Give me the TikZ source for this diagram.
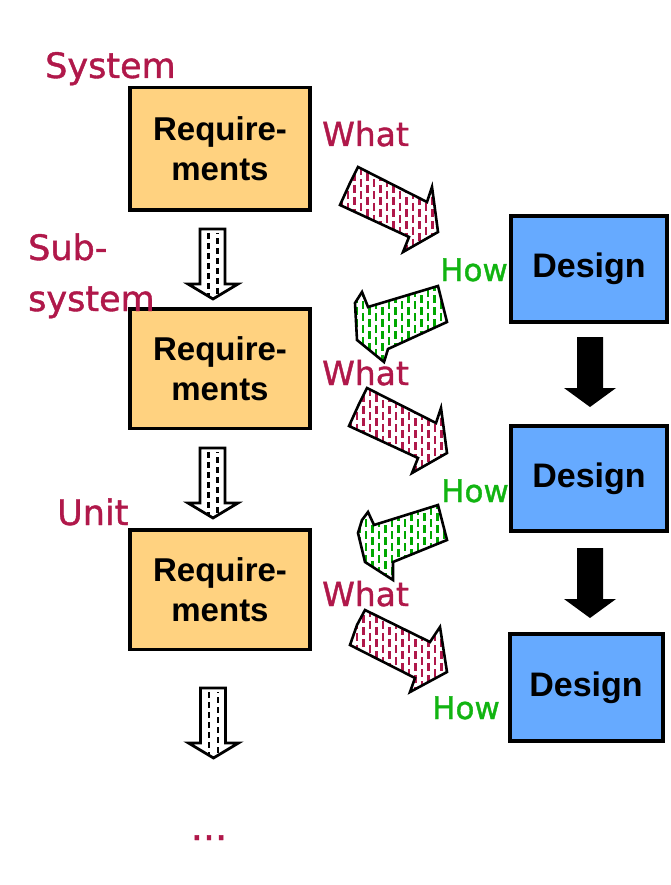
\documentclass[tikz,border=0pt]{standalone}
\usepackage{fontspec}
\setmainfont{Liberation Sans}
\newfontfamily\lblfont[FakeBold=1.2]{DejaVu Sans}
\definecolor{reqfill}{HTML}{FFD280}
\definecolor{desfill}{HTML}{66AAFF}
\definecolor{lblred}{HTML}{B0184A}
\definecolor{lblgreen}{HTML}{11B411}
\definecolor{arrred}{HTML}{B0184A}
\definecolor{arrgreen}{HTML}{00A800}

% hatched block arrow: #1 colour, #2 closed path, #3 x0, #4 y0 of a box covering it
\newcommand\hatchpoly[4]{%
  \begin{scope}
    \clip #2;
    \fill[white] ({#3-5},{#4-5}) rectangle ++(130,110);
    \foreach \i in {0,...,20}{%
      \ifodd\i \def\ph{6}\else\def\ph{0}\fi
      \draw[#1, line width=2.8pt, dash pattern=on 8pt off 4pt, dash phase=\ph pt]
        ({#3+\i*6.5},{#4-5}) -- ++(0,110);
    }
  \end{scope}
  \draw[outl] #2;
}
% white vertical arrow with dashes: #1 x centre, #2 y top
\newcommand\whitedown[2]{%
  \def\wpath{({#1-13},#2) -- ({#1+12},#2) -- ({#1+12},{#2+55}) -- ({#1+25},{#2+55}) -- (#1,{#2+70}) -- ({#1-25},{#2+55}) -- ({#1-13},{#2+55}) -- cycle}
  \begin{scope}
    \clip \wpath;
    \fill[white] ({#1-30},{#2-2}) rectangle ++(60,75);
    \draw[line width=2.6pt, dash pattern=on 6pt off 4pt] ({#1-4.5},{#2+4}) -- ++(0,66);
    \draw[line width=2.6pt, dash pattern=on 6pt off 4pt, dash phase=5pt] ({#1+4.5},{#2+4}) -- ++(0,66);
  \end{scope}
  \draw[outl, line width=2.8pt] \wpath;
}
% black vertical arrow: #1 x centre, #2 y top
\newcommand\blackdown[2]{%
  \fill[black] ({#1-13},#2) -- ({#1+13},#2) -- ({#1+13},{#2+51}) -- ({#1+26},{#2+51}) -- (#1,{#2+70}) -- ({#1-26},{#2+51}) -- ({#1-13},{#2+51}) -- cycle;
}

\begin{document}
\begin{tikzpicture}[x=1pt,y=-1pt,
  reqbox/.style={draw=black, line width=3.5pt, fill=reqfill, inner sep=0pt,
    minimum width=180pt, align=center, font=\fontsize{33}{40}\selectfont\bfseries},
  desbox/.style={draw=black, line width=4pt, fill=desfill, inner sep=0pt,
    minimum width=156pt, font=\fontsize{34}{40}\selectfont\bfseries},
  lblr/.style={text=lblred, inner sep=0pt, anchor=base west, font=\lblfont\fontsize{35}{40}\selectfont},
  lblw/.style={text=lblred, inner sep=0pt, anchor=base west, font=\lblfont\fontsize{33}{40}\selectfont},
  lblg/.style={text=lblgreen, inner sep=0pt, anchor=base west, font=\lblfont\fontsize{31}{36}\selectfont},
  outl/.style={draw=black, line width=2.6pt, line join=miter},
]
\useasboundingbox (0,0) rectangle (671,885);
\fill[white] (0,0) rectangle (671,885);

% boxes
\node[reqbox, minimum height=122.5pt] (req1) at (220,149) {Require-\\ments};
\node[reqbox, minimum height=119.5pt] (req2) at (220,368.5) {Require-\\ments};
\node[reqbox, minimum height=119.5pt] (req3) at (220,589.5) {Require-\\ments};
\node[desbox, minimum height=106pt] (des1) at (589,269) {Design};
\node[desbox, minimum height=105pt] (des2) at (589,478.5) {Design};
\node[desbox, minimum width=153pt, minimum height=107pt] (des3) at (586,687.5) {Design};

% labels
\node[lblr] (lsys) at (45,78) {System};
\node[lblr] (lsub) at (28,260) {Sub-};
\node[lblr] (lsub2) at (28,311) {system};
\node[lblr] (lunit) at (57,525) {Unit};
\node[lblw] (w1) at (322,146) {What};
\node[lblw] (w2) at (322,385) {What};
\node[lblw] (w3) at (322,606) {What};
\node[lblg] (h1) at (440,281) {How};
\node[lblg] (h2) at (441,502) {How};
\node[lblg] (h3) at (432,719) {How};
\node[text=lblred, inner sep=0pt, anchor=base, font=\lblfont\fontsize{38}{40}\selectfont] (dots) at (209,840) {...};

% red "what" arrows
\hatchpoly{arrred}{(358,167) -- (427,202) -- (432,187) -- (438,232) -- (403,252) -- (409,237) -- (340,205) -- (350,183) -- cycle}{335}{160}
\hatchpoly{arrred}{(367,388) -- (436,423) -- (441,408) -- (447,453) -- (412,473) -- (418,458) -- (349,426) -- (359,404) -- cycle}{344}{381}
\hatchpoly{arrred}{(365,610) -- (430,642) -- (440,627) -- (447,672) -- (410,692) -- (415,678) -- (350,645) -- (357,625) -- cycle}{344}{602}

% green "how" arrows
\hatchpoly{arrgreen}{(362,292) -- (368,307) -- (438,286) -- (447,322) -- (388,349) -- (384,362) -- (357,340) -- (355,303) -- cycle}{350}{282}
\hatchpoly{arrgreen}{(368,512) -- (374,525) -- (438,505) -- (447,540) -- (393,562) -- (393,580) -- (365,562) -- (358,533) -- (362,520) -- cycle}{353}{500}

% white downward arrows
\whitedown{213}{229}
\whitedown{213}{448}
\whitedown{213.5}{688}

% black downward arrows
\blackdown{590}{337}
\blackdown{590}{548}
\end{tikzpicture}
\end{document}
